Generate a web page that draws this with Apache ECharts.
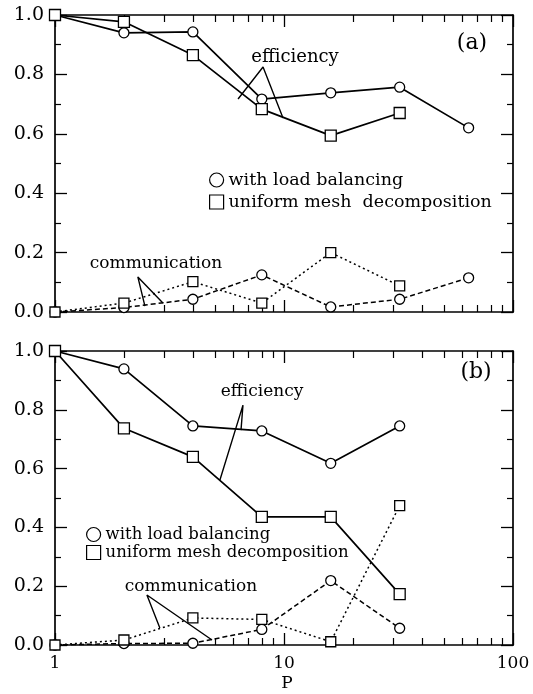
<!DOCTYPE html>
<html>
<head>
<meta charset="utf-8">
<script src="https://cdn.jsdelivr.net/npm/echarts@6/dist/echarts.min.js"></script>
<style>
html,body{margin:0;padding:0;background:#fff;}
#chart{width:533px;height:694px;}
</style>
</head>
<body>
<div id="chart"></div>
<script>
// ---------- data ----------
// Panel (a)
var P_A = [1, 2, 4, 8, 16, 32, 64];
var effLB_A = [1.0, 0.94, 0.943, 0.717, 0.738, 0.757, 0.62];
var effUM_A = [1.0, 0.977, 0.865, 0.683, 0.594, 0.67];
var commLB_A = [0, 0.015, 0.043, 0.125, 0.017, 0.043, 0.115];
var commUM_A = [0, 0.03, 0.102, 0.03, 0.2, 0.088];
// Panel (b)
var P_B = [1, 2, 4, 8, 16, 32];
var effLB_B = [1.0, 0.939, 0.745, 0.728, 0.618, 0.745];
var effUM_B = [1.0, 0.737, 0.64, 0.436, 0.436, 0.173];
var commLB_B = [0, 0.005, 0.006, 0.053, 0.219, 0.057];
var commUM_B = [0, 0.017, 0.092, 0.087, 0.011, 0.474];
// annotation pointers (data coordinates: [P, value])
var effPointer_A = [[6.3, 0.717], [8.1, 0.825], [9.9, 0.653]];
var commPointer_A = [[2.47, 0.020], [2.30, 0.118], [2.96, 0.030]];
var effPointer_B = [[6.49, 0.731], [6.62, 0.816], [5.25, 0.561]];
var commPointer_B = [[2.87, 0.058], [2.52, 0.170], [4.85, 0.017]];
// axis ticks
var xMinorTicks = [2, 3, 4, 5, 6, 7, 8, 9, 20, 30, 40, 50, 60, 70, 80, 90];
var xLabels = [1, 10, 100];
var LB = 'with load balancing';
var UM = 'uniform mesh decomposition';

// ---------- helpers ----------
var FONT = 'DejaVu Serif';
function pairs(xs, ys) { return ys.map(function (y, i) { return [xs[i], y]; }); }

function dataSeries(name, xs, ys, sym, dash, xi, yi, size) {
  return {
    type: 'line', name: name, xAxisIndex: xi, yAxisIndex: yi,
    data: pairs(xs, ys), symbol: sym, symbolSize: size, showAllSymbol: true,
    itemStyle: { color: '#fff', borderColor: '#000', borderWidth: 1.3 },
    lineStyle: { color: '#000', width: dash === 'solid' ? 1.7 : 1.5, type: dash },
    emphasis: { disabled: true }, z: 3
  };
}
function pointer(data, xi, yi) {
  return {
    type: 'line', name: 'ptr', xAxisIndex: xi, yAxisIndex: yi, data: data,
    symbol: 'none', silent: true,
    lineStyle: { color: '#000', width: 1.4 }, z: 2
  };
}
function xMajor(grid, pos, labels) {
  return {
    type: 'log', logBase: 10, min: 1, max: 100, gridIndex: grid, position: pos,
    axisLine: { show: true, lineStyle: { color: '#000', width: 1.7 } },
    axisTick: { show: true, inside: true, length: 12, lineStyle: { color: '#000', width: 1.3 } },
    axisLabel: { show: labels, customValues: xLabels, margin: 10, color: '#000', fontFamily: FONT, fontSize: 17,
      formatter: function (v) { return String(Math.round(v)); } },
    splitLine: { show: false }, minorTick: { show: false }
  };
}
function xMinor(grid, pos) {
  return {
    type: 'log', logBase: 10, min: 1, max: 100, gridIndex: grid, position: pos,
    axisLine: { show: false },
    axisTick: { show: true, inside: true, length: 7, customValues: xMinorTicks, lineStyle: { color: '#000', width: 1.2 } },
    axisLabel: { show: false }, splitLine: { show: false }
  };
}
function yAxis(grid, pos, labels) {
  return {
    type: 'value', min: 0, max: 1, interval: 0.2, gridIndex: grid, position: pos,
    axisLine: { show: true, lineStyle: { color: '#000', width: 1.7 } },
    axisTick: { show: true, inside: true, length: 12, lineStyle: { color: '#000', width: 1.3 } },
    minorTick: { show: true, splitNumber: 2, length: 6, lineStyle: { color: '#000', width: 1.2 } },
    axisLabel: { show: labels, margin: 11, color: '#000', fontFamily: FONT, fontSize: 19,
      formatter: function (v) { return v.toFixed(1); } },
    splitLine: { show: false }, minorSplitLine: { show: false }
  };
}
function txt(x, y, s, size) {
  return { type: 'text', x: x, y: y, style: { text: s, fill: '#000', font: size + 'px "' + FONT + '"', align: 'center', verticalAlign: 'middle' } };
}

var legendCommon = {
  orient: 'vertical', icon: 'circle', itemWidth: 14, itemHeight: 14,
  selectedMode: false,
  itemStyle: { color: '#fff', borderColor: '#000', borderWidth: 1.2 },
  lineStyle: { width: 0 },
  data: [{ name: LB, icon: 'circle' }, { name: UM, icon: 'rect' }]
};

var option = {
  animation: false,
  backgroundColor: '#fff',
  grid: [
    { left: 55, top: 15, width: 458, height: 297 },
    { left: 55, top: 351, width: 458, height: 294 }
  ],
  xAxis: [
    xMajor(0, 'bottom', false), xMinor(0, 'bottom'), xMajor(0, 'top', false), xMinor(0, 'top'),
    xMajor(1, 'bottom', true), xMinor(1, 'bottom'), xMajor(1, 'top', false), xMinor(1, 'top')
  ],
  yAxis: [
    yAxis(0, 'left', true), yAxis(0, 'right', false),
    yAxis(1, 'left', true), yAxis(1, 'right', false)
  ],
  legend: [
    Object.assign({}, legendCommon, {
      left: 204, top: 166, itemGap: 4,
      textStyle: { color: '#000', fontFamily: FONT, fontSize: 17.5 },
      formatter: function (n) { return n === UM ? 'uniform mesh  decomposition' : n; }
    }),
    Object.assign({}, legendCommon, {
      left: 81, top: 521, itemGap: 1,
      textStyle: { color: '#000', fontFamily: FONT, fontSize: 16.5 }
    })
  ],
  graphic: [
    txt(295, 57, 'efficiency', 18),
    txt(472, 43, '(a)', 22),
    txt(156, 264, 'communication', 17),
    txt(262, 392, 'efficiency', 17),
    txt(476, 372, '(b)', 22),
    txt(191, 587, 'communication', 17),
    txt(287, 684, 'P', 17)
  ],
  series: [
    dataSeries(LB, P_A, effLB_A, 'circle', 'solid', 0, 0, 10),
    dataSeries(UM, P_A, effUM_A, 'rect', 'solid', 0, 0, 11),
    dataSeries('comm LB a', P_A, commLB_A, 'circle', [5, 3], 0, 0, 10),
    dataSeries('comm UM a', P_A, commUM_A, 'rect', [2, 3], 0, 0, 10),
    pointer(effPointer_A, 0, 0),
    pointer(commPointer_A, 0, 0),
    dataSeries(LB, P_B, effLB_B, 'circle', 'solid', 4, 2, 10),
    dataSeries(UM, P_B, effUM_B, 'rect', 'solid', 4, 2, 11),
    dataSeries('comm LB b', P_B, commLB_B, 'circle', [5, 3], 4, 2, 10),
    dataSeries('comm UM b', P_B, commUM_B, 'rect', [2, 3], 4, 2, 10),
    pointer(effPointer_B, 4, 2),
    pointer(commPointer_B, 4, 2)
  ]
};

var chart = echarts.init(document.getElementById('chart'), null, { renderer: 'canvas' });
chart.setOption(option);
</script>
</body>
</html>
